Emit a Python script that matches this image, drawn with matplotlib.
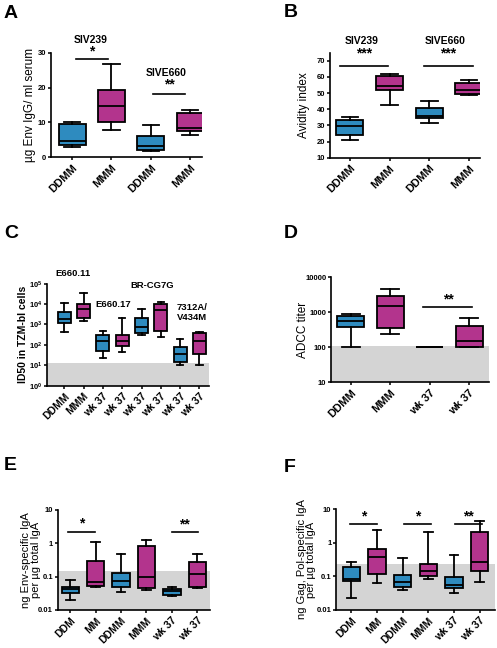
import numpy as np
import matplotlib
matplotlib.use('Agg')
import matplotlib.pyplot as plt
from matplotlib.ticker import NullLocator

plt.rcParams['font.family'] = ['Liberation Sans', 'DejaVu Sans']
plt.rcParams['mathtext.fontset'] = 'custom'
plt.rcParams['mathtext.rm'] = 'Liberation Sans'
plt.rcParams['mathtext.bf'] = 'Liberation Sans:bold'

BLUE = '#2e8bbf'
MAG = '#b3348d'
GRAY = '#d4d4d4'

# ── A: Env IgG (ug/ml) ──
a_labels = ['DDMM', 'MMM', 'DDMM', 'MMM']
a_lo = [3.0, 7.8, 1.8, 6.4]
a_q1 = [3.4, 10.1, 2.0, 7.4]
a_med = [4.8, 14.6, 3.1, 8.4]
a_q3 = [9.5, 19.3, 6.2, 12.6]
a_hi = [10.2, 26.7, 9.2, 13.7]

# ── B: avidity index ──
b_labels = ['DDMM', 'MMM', 'DDMM', 'MMM']
b_lo = [20.8, 42.8, 31.7, 48.6]
b_q1 = [24.0, 51.6, 34.7, 49.5]
b_med = [29.6, 54.4, 35.9, 51.8]
b_q3 = [33.6, 60.3, 40.6, 56.4]
b_hi = [34.9, 62.0, 44.8, 57.9]

# ── C: ID50 in TZM-bl ──
c_labels = ['DDMM', 'MMM', 'wk 37', 'wk 37', 'wk 37', 'wk 37', 'wk 37', 'wk 37']
c_lo = [410, 1540, 23, 45, 295, 250, 10.3, 10.3]
c_q1 = [1140, 2150, 48, 88, 400, 500, 14.5, 35]
c_med = [1780, 5900, 162, 155, 725, 5100, 35, 149]
c_q3 = [4300, 9800, 295, 295, 2100, 10000, 79, 370]
c_hi = [11700, 36000, 480, 2100, 5500, 12000, 195, 430]
c_limit = 12.3

# ── D: ADCC titer ──
d_labels = ['DDMM', 'MMM', 'wk 37', 'wk 37']
d_lo = [100, 245, 100, 100]
d_q1 = [380, 355, 100, 100]
d_med = [580, 1520, 100, 150]
d_q3 = [790, 2930, 100, 410]
d_hi = [910, 4650, 100, 680]
d_limit = 106

# ── E: Env-specific IgA ──
e_labels = ['DDM', 'MM', 'DDMM', 'MMM', 'wk 37', 'wk 37']
e_lo = [0.020, 0.048, 0.034, 0.040, 0.026, 0.045]
e_q1 = [0.033, 0.052, 0.048, 0.047, 0.029, 0.048]
e_med = [0.042, 0.071, 0.076, 0.095, 0.038, 0.120]
e_q3 = [0.048, 0.30, 0.126, 0.85, 0.044, 0.275]
e_hi = [0.079, 1.07, 0.48, 1.26, 0.048, 0.47]
e_limit = 0.145

# ── F: Gag, Pol-specific IgA ──
f_labels = ['DDM', 'MM', 'DDMM', 'MMM', 'wk 37', 'wk 37']
f_lo = [0.022, 0.063, 0.040, 0.083, 0.032, 0.069]
f_q1 = [0.074, 0.12, 0.048, 0.10, 0.045, 0.14]
f_med = [0.081, 0.37, 0.066, 0.148, 0.057, 0.27]
f_q3 = [0.19, 0.67, 0.11, 0.24, 0.093, 2.1]
f_hi = [0.26, 2.3, 0.34, 2.1, 0.42, 4.4]
f_limit = 0.234

fig = plt.figure(figsize=(4.97, 6.48), dpi=100)


def add_ax(l, t, r, b):
    return fig.add_axes([l / 497, 1 - b / 648, (r - l) / 497, (b - t) / 648])


def boxes(ax, labels, lo, q1, med, q3, hi, capw, xsize):
    stats = [dict(whislo=lo[i], q1=q1[i], med=med[i], q3=q3[i], whishi=hi[i], fliers=[])
             for i in range(len(labels))]
    pos = np.arange(1, len(labels) + 1)
    art = ax.bxp(stats, positions=pos, widths=0.68, capwidths=capw, patch_artist=True,
                 showfliers=False,
                 boxprops=dict(edgecolor='black', linewidth=1.3),
                 medianprops=dict(color='black', linewidth=1.3),
                 whiskerprops=dict(color='black', linewidth=1.3),
                 capprops=dict(color='black', linewidth=1.3))
    for i, b in enumerate(art['boxes']):
        b.set_facecolor(BLUE if i % 2 == 0 else MAG)
    for s in ['top', 'right']:
        ax.spines[s].set_visible(False)
    for s in ['left', 'bottom']:
        ax.spines[s].set_linewidth(1.2)
    ax.tick_params(direction='out', length=2.5, width=1.1)
    ax.tick_params(axis='y', pad=0.8)
    ax.tick_params(axis='x', pad=1.5)
    ax.set_xticks(pos)
    ax.set_xticklabels(labels, rotation=45, ha='right', rotation_mode='anchor',
                       fontsize=xsize, fontweight='bold')
    for t in ax.get_yticklabels():
        t.set_fontsize(5.5)
        t.set_fontweight('bold')


def sig(ax, x0, x1, y, ys, stars):
    ax.plot([x0, x1], [y, y], color='black', lw=1.2, clip_on=False)
    ax.text((x0 + x1) / 2, ys, stars, ha='center', va='center', fontsize=10,
            fontweight='bold', clip_on=False)


# ── A ──
axA = add_ax(50.5, 52.7, 202, 157.3)
axA.set_ylim(0, 30)
axA.set_yticks([0, 10, 20, 30])
boxes(axA, a_labels, a_lo, a_q1, a_med, a_q3, a_hi, 0.42, 8)
axA.set_xlim(0.45, 4.3)
axA.set_ylabel('\u00b5g Env IgG/ ml serum', fontsize=8.5)
axA.yaxis.set_label_coords(-0.095, 0.5)
sig(axA, 1.1, 1.9, 28.2, 30.4, '*')
axA.text(1.48, 33.5, 'SIV239', ha='center', va='center', fontsize=7.5, fontweight='bold')
sig(axA, 3.05, 3.87, 18.1, 20.8, '**')
axA.text(3.4, 24.1, 'SIVE660', ha='center', va='center', fontsize=7.5, fontweight='bold')

# ── B ──
axB = add_ax(330, 52.6, 480, 157.7)
axB.set_ylim(10, 75)
axB.set_yticks([10, 20, 30, 40, 50, 60, 70])
boxes(axB, b_labels, b_lo, b_q1, b_med, b_q3, b_hi, 0.42, 8)
axB.set_xlim(0.5, 4.28)
axB.set_ylabel('Avidity index', fontsize=8.5)
axB.yaxis.set_label_coords(-0.13, 0.5)
sig(axB, 0.75, 1.96, 67.0, 74.7, '***')
axB.text(1.3, 82.4, 'SIV239', ha='center', va='center', fontsize=7.5, fontweight='bold', clip_on=False)
sig(axB, 2.86, 4.1, 67.0, 74.7, '***')
axB.text(3.4, 82.4, 'SIVE660', ha='center', va='center', fontsize=7.5, fontweight='bold', clip_on=False)

# ── C ──
axC = add_ax(47, 283.7, 209, 385.7)
axC.set_yscale('log')
axC.set_ylim(1, 1e5)
axC.axhspan(1, c_limit, color=GRAY, zorder=0, lw=0)
boxes(axC, c_labels, c_lo, c_q1, c_med, c_q3, c_hi, 0.34, 7.5)
axC.set_xlim(0.1, 8.5)
axC.set_yticks([10.0 ** k for k in range(6)])
axC.set_yticklabels([r'$\mathbf{10^{%d}}$' % k for k in range(6)], fontsize=5.5)
axC.yaxis.set_minor_locator(NullLocator())
axC.set_ylabel('ID50 in TZM-bl cells', fontsize=7.5, fontweight='bold')
axC.yaxis.set_label_coords(-0.12, 0.5)
axC.text(0.52, 10 ** 5.52, 'E660.11', ha='left', va='center', fontsize=6.8, fontweight='bold', clip_on=False)
axC.text(2.59, 10 ** 4.0, 'E660.17', ha='left', va='center', fontsize=6.8, fontweight='bold')
axC.text(4.4, 10 ** 4.89, 'BR-CG7G', ha='left', va='center', fontsize=6.8, fontweight='bold')
axC.text(6.84, 10 ** 3.81, '7312A/', ha='left', va='center', fontsize=6.8, fontweight='bold')
axC.text(6.84, 10 ** 3.32, 'V434M', ha='left', va='center', fontsize=6.8, fontweight='bold')

# ── D ──
axD = add_ax(331, 277.3, 489, 382.3)
axD.set_yscale('log')
axD.set_ylim(10, 1e4)
axD.axhspan(10, d_limit, color=GRAY, zorder=0, lw=0)
boxes(axD, d_labels, d_lo, d_q1, d_med, d_q3, d_hi, 0.45, 8)
axD.set_xlim(0.5, 4.5)
axD.set_yticks([10, 100, 1000, 10000])
axD.set_yticklabels(['10', '100', '1000', '10000'], fontsize=5.5, fontweight='bold')
axD.yaxis.set_minor_locator(NullLocator())
axD.set_ylabel('ADCC titer', fontsize=8.5)
axD.yaxis.set_label_coords(-0.14, 0.5)
sig(axD, 2.84, 4.08, 1450, 2350, '**')

# ── E ──
axE = add_ax(57.5, 510, 210, 610)
axE.set_yscale('log')
axE.set_ylim(0.01, 10)
axE.axhspan(0.01, e_limit, color=GRAY, zorder=0, lw=0)
boxes(axE, e_labels, e_lo, e_q1, e_med, e_q3, e_hi, 0.34, 7.5)
axE.set_xlim(0.5, 6.5)
axE.set_yticks([0.01, 0.1, 1, 10])
axE.set_yticklabels(['0.01', '0.1', '1', '10'], fontsize=5.5, fontweight='bold')
axE.yaxis.set_minor_locator(NullLocator())
axE.set_ylabel('ng Env-specific IgA\nper \u00b5g total IgA', fontsize=8, linespacing=0.95)
axE.yaxis.set_label_coords(-0.11, 0.5)
sig(axE, 0.93, 1.98, 2.24, 4.0, '*')
sig(axE, 4.99, 6.03, 2.24, 3.8, '**')

# ── F ──
axF = add_ax(336, 509, 495, 610)
axF.set_yscale('log')
axF.set_ylim(0.01, 10)
axF.axhspan(0.01, f_limit, color=GRAY, zorder=0, lw=0)
boxes(axF, f_labels, f_lo, f_q1, f_med, f_q3, f_hi, 0.34, 7.5)
axF.set_xlim(0.4, 6.6)
axF.set_yticks([0.01, 0.1, 1, 10])
axF.set_yticklabels(['0.01', '0.1', '1', '10'], fontsize=5.5, fontweight='bold')
axF.yaxis.set_minor_locator(NullLocator())
axF.set_ylabel('ng Gag, Pol-specific IgA\nper \u00b5g total IgA', fontsize=8, linespacing=0.95)
axF.yaxis.set_label_coords(-0.125, 0.5)
sig(axF, 0.95, 2.0, 3.5, 6.0, '*')
sig(axF, 3.05, 4.1, 3.5, 6.0, '*')
sig(axF, 5.05, 6.1, 3.5, 6.0, '**')

# panel letters
for letter, x, y in [('A', 4, 5), ('B', 284, 4), ('C', 4, 225), ('D', 284, 225),
                     ('E', 4, 457), ('F', 284, 459)]:
    fig.text(x / 497, 1 - y / 648, letter, fontsize=14, fontweight='bold', va='top', ha='left')

plt.savefig('out.png', dpi=100)
